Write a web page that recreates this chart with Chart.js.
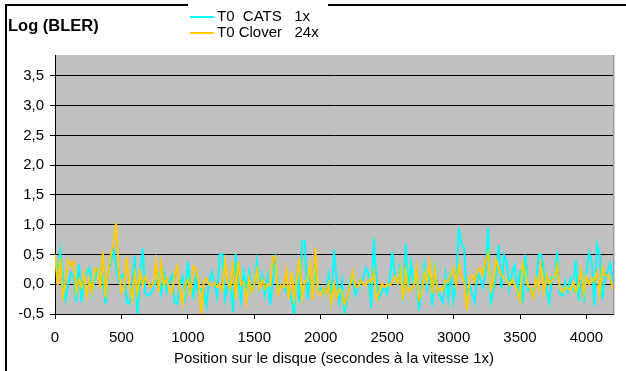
<!DOCTYPE html>
<html>
<head>
<meta charset="utf-8">
<script src="https://cdn.jsdelivr.net/npm/chart.js@4/dist/chart.umd.min.js"></script>
<style>
  body { margin: 0; background: #fff; }
  #wrap { position: relative; width: 626px; height: 371px; overflow: hidden; font-family: Arial, "Liberation Sans", sans-serif; }
  #frame { position: absolute; left: 5px; top: 4px; width: 700px; height: 500px; border: 2px solid #000; }
  #chart { position: absolute; left: 0; top: 0; }
  #title { position: absolute; left: 8px; top: 16px; font-weight: bold; font-size: 16.5px; color: #000; }
  #legend { position: absolute; left: 188px; top: 0; width: 140px; height: 42px; background: #fff; }
  .row { position: absolute; left: 2px; height: 16px; font-size: 15px; line-height: 16px; white-space: pre; color: #000; }
  .swatch { display: inline-block; width: 24px; height: 2px; vertical-align: middle; margin-right: 3px; }
</style>
</head>
<body>
<div id="wrap">
  <div id="frame"></div>
  <canvas id="chart" width="626" height="371"></canvas>
  <div id="title">Log (BLER)</div>
  <div id="legend">
    <div class="row" style="top:8px"><span class="swatch" style="background:#00FFFF"></span>T0  CATS   1x</div>
    <div class="row" style="top:24px"><span class="swatch" style="background:#FFCC00"></span>T0 Clover   24x</div>
  </div>
</div>
<script>
const STEP = 20 // seconds between samples

const catsValues = [
  0.45, 0.2, 0.55, 0.1, -0.25, 0.0, 0.2, 0.15, -0.3, 0.33,
  -0.3, 0.1, 0.2, 0.27, -0.15, 0.1, 0.25, 0.05, 0.15, -0.33,
  0.15, 0.38, 0.6, 0.3, 0.05, 0.15, 0.15, -0.3, -0.33, -0.05,
  0.47, -0.52, 0.1, 0.6, -0.15, -0.2, -0.15, -0.08, 0.05, 0.15,
  -0.15, 0.18, -0.12, 0.05, 0.15, -0.3, -0.33, 0.0, 0.12, -0.2,
  0.38, 0.0, -0.2, 0.1, -0.15, -0.08, -0.1, -0.36, 0.05, 0.2,
  0.0, -0.2, 0.51, 0.5, -0.25, -0.05, 0.05, -0.47, 0.51, 0.05,
  -0.27, 0.2, -0.07, 0.21, -0.13, -0.02, 0.38, -0.07, 0.15, -0.18,
  0.1, -0.35, 0.1, 0.43, -0.02, -0.05, -0.02, -0.13, -0.07, -0.25,
  -0.52, 0.2, -0.3, 0.72, 0.72, -0.25, 0.1, -0.07, 0.21, -0.1,
  -0.07, -0.13, -0.16, 0.15, -0.36, 0.58, 0.1, -0.3, 0.05, -0.47,
  -0.25, 0.07, 0.18, -0.19, -0.08, 0.04, 0.1, 0.27, 0.18, -0.4,
  0.77, 0.07, -0.22, -0.13, -0.05, -0.16, 0.07, 0.55, 0.1, 0.0,
  0.35, -0.3, 0.68, -0.07, 0.35, 0.0, 0.2, -0.44, -0.05, 0.32,
  -0.07, 0.27, -0.36, 0.38, -0.07, -0.22, -0.3, 0.15, -0.25, 0.21,
  -0.27, 0.0, 0.95, 0.66, 0.61, -0.3, 0.0, -0.16, -0.3, 0.2,
  0.1, -0.05, 0.18, 0.95, -0.3, -0.13, 0.2, 0.66, -0.07, 0.49,
  0.38, -0.07, 0.2, 0.32, -0.19, 0.24, -0.3, 0.5, -0.1, -0.07,
  -0.16, 0.0, 0.49, 0.5, 0.21, -0.1, -0.3, 0.12, 0.1, 0.55,
  -0.16, -0.19, 0.04, -0.13, 0.1, -0.07, 0.41, -0.27, 0.27, -0.3,
  0.21, 0.52, 0.38, -0.36, 0.66, 0.49, -0.25, 0.12, 0.21, 0.35,
  0.0
]

const cloverValues = [
  0.5, -0.02, 0.44, -0.2, 0.02, 0.4, 0.32, 0.38, -0.13, 0.07,
  -0.05, 0.18, -0.19, 0.07, -0.13, 0.27, 0.27, -0.08, 0.54, -0.22,
  0.18, 0.5, 0.66, 1.03, 0.2, -0.13, -0.08, 0.45, -0.02, -0.25,
  0.18, -0.16, 0.2, -0.02, 0.12, 0.04, -0.05, 0.01, 0.38, -0.13,
  0.35, -0.02, 0.1, -0.1, -0.16, 0.15, 0.3, -0.1, -0.33, 0.0,
  0.07, -0.13, 0.3, 0.27, 0.07, -0.52, 0.05, 0.1, 0.0, -0.02,
  0.02, -0.05, 0.0, -0.1, 0.38, 0.02, -0.07, 0.38, -0.25, 0.38,
  0.0, 0.04, -0.3, 0.1, -0.13, 0.0, 0.24, -0.07, 0.07, -0.07,
  0.0, -0.02, 0.45, 0.45, -0.16, -0.02, -0.05, 0.24, -0.25, 0.21,
  -0.25, 0.1, 0.44, -0.22, 0.04, 0.07, 0.33, -0.25, 0.61, -0.13,
  -0.19, -0.07, -0.16, 0.01, -0.33, 0.01, -0.22, -0.08, -0.13, -0.33,
  -0.22, -0.02, 0.21, -0.02, -0.05, 0.07, 0.0, -0.02, 0.07, 0.04,
  0.21, -0.25, -0.13, 0.01, -0.05, 0.0, -0.02, 0.04, 0.12, 0.01,
  0.24, -0.27, 0.24, -0.13, -0.07, -0.05, 0.27, -0.25, -0.16, 0.21,
  0.04, 0.35, -0.16, 0.27, -0.13, -0.07, -0.1, 0.07, 0.04, 0.15,
  0.27, -0.02, 0.32, 0.12, 0.04, -0.44, 0.1, 0.15, 0.04, 0.24,
  0.27, 0.15, 0.38, 0.52, -0.1, 0.04, 0.41, 0.27, 0.15, 0.1,
  0.07, -0.02, 0.07, 0.0, -0.13, -0.27, 0.35, 0.18, -0.02, -0.07,
  -0.22, 0.1, -0.07, 0.3, -0.13, 0.15, 0.01, 0.07, 0.12, 0.32,
  -0.07, -0.13, -0.05, -0.07, -0.1, 0.04, -0.13, -0.02, 0.24, -0.16,
  0.12, 0.0, 0.1, 0.04, 0.2, -0.16, 0.27, 0.15, 0.15, 0.1,
  -0.1
]

const xTicks = [0, 500, 1000, 1500, 2000, 2500, 3000, 3500, 4000]
const yTicks = [-0.5, 0, 0.5, 1, 1.5, 2, 2.5, 3, 3.5]

const toPoints = arr => arr.map((v, i) => ({ x: i * STEP, y: v }))

const axisFont = { family: 'Arial, "Liberation Sans", sans-serif', size: 15 }

const plotBackground = {
  id: 'plotBackground',
  beforeDraw(chart) {
    const { ctx, chartArea: a } = chart
    ctx.save()
    ctx.fillStyle = '#C0C0C0'
    ctx.fillRect(a.left, a.top, a.right - a.left, a.bottom - a.top)
    ctx.fillStyle = '#9E9E9E'
    ctx.fillRect(a.right, a.top, 1.5, a.bottom - a.top)
    ctx.restore()
  }
}

new Chart(document.getElementById('chart'), {
  type: 'line',
  data: {
    datasets: [
      {
        label: 'T0  CATS   1x',
        data: toPoints(catsValues),
        borderColor: '#00FFFF',
        borderWidth: 2,
        pointRadius: 0,
        tension: 0,
        order: 1
      },
      {
        label: 'T0 Clover   24x',
        data: toPoints(cloverValues),
        borderColor: '#FFCC00',
        borderWidth: 2,
        pointRadius: 0,
        tension: 0,
        order: 0
      }
    ]
  },
  options: {
    responsive: false,
    animation: false,
    layout: { padding: { left: 0, right: 13, top: 55, bottom: 0 } },
    plugins: {
      legend: { display: false },
      tooltip: { enabled: false }
    },
    scales: {
      x: {
        type: 'linear',
        min: 0,
        max: 4200,
        afterBuildTicks: s => { s.ticks = xTicks.map(v => ({ value: v })) },
        afterFit: s => { s.height = 57 },
        ticks: { color: '#000', font: axisFont, padding: 10, maxRotation: 0, callback: v => String(v) },
        grid: { drawOnChartArea: false, drawTicks: true, tickLength: 5, color: '#000', lineWidth: 1 },
        border: { display: true, color: '#000', width: 1 },
        title: {
          display: true,
          text: 'Position sur le disque (secondes à la vitesse 1x)',
          color: '#000',
          font: axisFont,
          padding: { top: 0, bottom: 3 }
        }
      },
      y: {
        min: -0.5,
        max: 3.85,
        afterBuildTicks: s => { s.ticks = yTicks.map(v => ({ value: v })) },
        afterFit: s => { s.width = 55 },
        ticks: {
          color: '#000',
          font: axisFont,
          padding: 6,
          callback: v => v.toFixed(1).replace('.', ',')
        },
        grid: { color: '#000', lineWidth: 1, tickLength: 5 },
        border: { display: true, color: '#000', width: 1 }
      }
    }
  },
  plugins: [plotBackground]
})
</script>
</body>
</html>
